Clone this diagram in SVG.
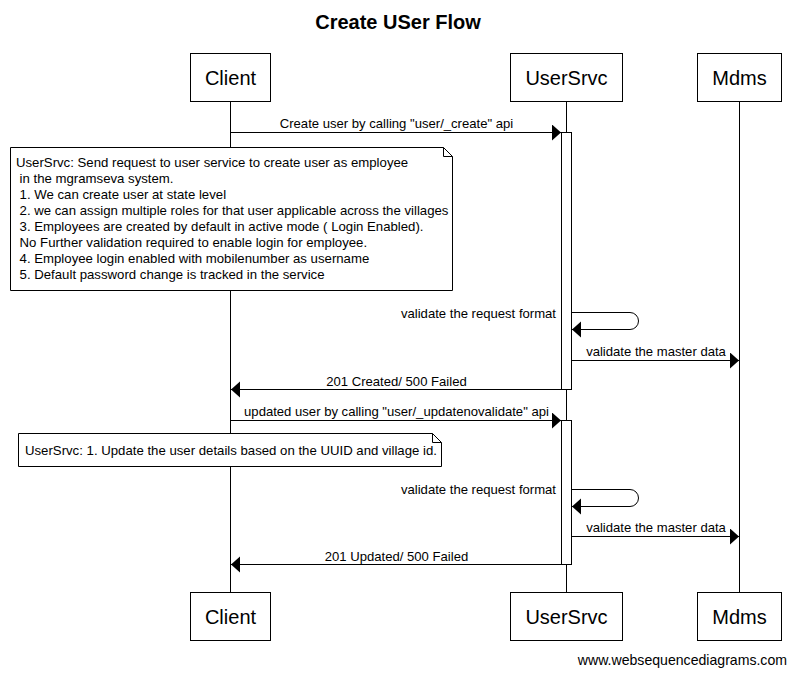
<svg xmlns="http://www.w3.org/2000/svg" width="796" height="676" viewBox="0 0 796 676">
<style>
text{font-family:"Liberation Sans",Arial,sans-serif;fill:#000}
.title{font-size:20px;font-weight:bold;text-anchor:middle}
.pl{font-size:20px;text-anchor:middle}
.msg{font-size:13.1px;text-anchor:middle}
.note{font-size:13.2px}
.self{font-size:13.1px;text-anchor:end}
.foot{font-size:14.1px;text-anchor:end}
.box{fill:#fff;stroke:#000;stroke-width:1}
.life{stroke:#000;stroke-width:1;fill:none}
.arr{stroke:#000;stroke-width:1;fill:none;marker-end:url(#ah)}
</style>
<defs>
<marker id="ah" markerUnits="userSpaceOnUse" markerWidth="10" markerHeight="18" refX="9" refY="8" orient="auto">
<path d="M0,0 L9,8 L0,16 Z" fill="#000"/>
</marker>
</defs>
<rect width="796" height="676" fill="#fff"/>
<text class="title" x="398" y="29">Create USer Flow</text>
<g id="lifelines">
<line class="life" x1="230.5" y1="102" x2="230.5" y2="592"/>
<line class="life" x1="566.5" y1="102" x2="566.5" y2="592"/>
<line class="life" x1="739.5" y1="102" x2="739.5" y2="592"/>
</g>
<g id="client">
<rect class="box" x="190.5" y="53.5" width="80" height="48"/>
<text class="pl" x="230.5" y="85">Client</text>
<rect class="box" x="190.5" y="592.5" width="80" height="48"/>
<text class="pl" x="230.5" y="624">Client</text>
</g>
<g id="usersrvc">
<rect class="box" x="510.5" y="53.5" width="112" height="48"/>
<text class="pl" x="566.5" y="85">UserSrvc</text>
<rect class="box" x="510.5" y="592.5" width="112" height="48"/>
<text class="pl" x="566.5" y="624">UserSrvc</text>
</g>
<g id="mdms">
<rect class="box" x="697.5" y="53.5" width="84" height="48"/>
<text class="pl" x="739.5" y="85">Mdms</text>
<rect class="box" x="697.5" y="592.5" width="84" height="48"/>
<text class="pl" x="739.5" y="624">Mdms</text>
</g>
<g id="activations">
<rect class="box" x="561.5" y="132.5" width="10" height="257"/>
<rect class="box" x="561.5" y="420.5" width="10" height="144"/>
</g>
<g id="connectors">
<line class="arr" x1="231" y1="132.5" x2="561" y2="132.5"/>
<text class="msg" x="396.5" y="128">Create user by calling "user/_create" api</text>
<path class="arr" d="M572,312.5 H630 A8.5,8.5 0 0 1 630,329.5 H572"/>
<text class="self" x="556" y="318">validate the request format</text>
<line class="arr" x1="572" y1="360.5" x2="739" y2="360.5"/>
<text class="msg" x="656" y="356">validate the master data</text>
<line class="arr" x1="561" y1="389.5" x2="231" y2="389.5"/>
<text class="msg" x="396.5" y="386">201 Created/ 500 Failed</text>
<line class="arr" x1="231" y1="420.5" x2="561" y2="420.5"/>
<text class="msg" x="396.5" y="416">updated user by calling "user/_updatenovalidate" api</text>
<path class="arr" d="M572,489.5 H630 A8.5,8.5 0 0 1 630,506.5 H572"/>
<text class="self" x="556" y="494">validate the request format</text>
<line class="arr" x1="572" y1="536.5" x2="739" y2="536.5"/>
<text class="msg" x="656" y="532">validate the master data</text>
<line class="arr" x1="561" y1="564.5" x2="231" y2="564.5"/>
<text class="msg" x="396.5" y="561">201 Updated/ 500 Failed</text>
</g>
<g id="note1">
<path class="box" d="M10.5,147.5 H443.5 L452.5,156.5 V290.5 H10.5 Z"/>
<path class="life" d="M443.5,147.5 V156.5 H452.5"/>
<text class="note" x="16" y="167">UserSrvc: Send request to user service to create user as employee</text>
<text class="note" x="19.6" y="183">in the mgramseva system.</text>
<text class="note" x="19.6" y="199">1. We can create user at state level</text>
<text class="note" x="19.6" y="215">2. we can assign multiple roles for that user applicable across the villages</text>
<text class="note" x="19.6" y="231">3. Employees are created by default in active mode ( Login Enabled).</text>
<text class="note" x="19.6" y="247">No Further validation required to enable login for employee.</text>
<text class="note" x="19.6" y="263">4. Employee login enabled with mobilenumber as username</text>
<text class="note" x="19.6" y="279">5. Default password change is tracked in the service</text>
</g>
<g id="note2">
<path class="box" d="M18.5,433.5 H432.5 L441.5,442.5 V466.5 H18.5 Z"/>
<path class="life" d="M432.5,433.5 V442.5 H441.5"/>
<text class="note" x="25" y="455">UserSrvc: 1. Update the user details based on the UUID and village id.</text>
</g>
<text class="foot" x="787" y="665">www.websequencediagrams.com</text>
</svg>
